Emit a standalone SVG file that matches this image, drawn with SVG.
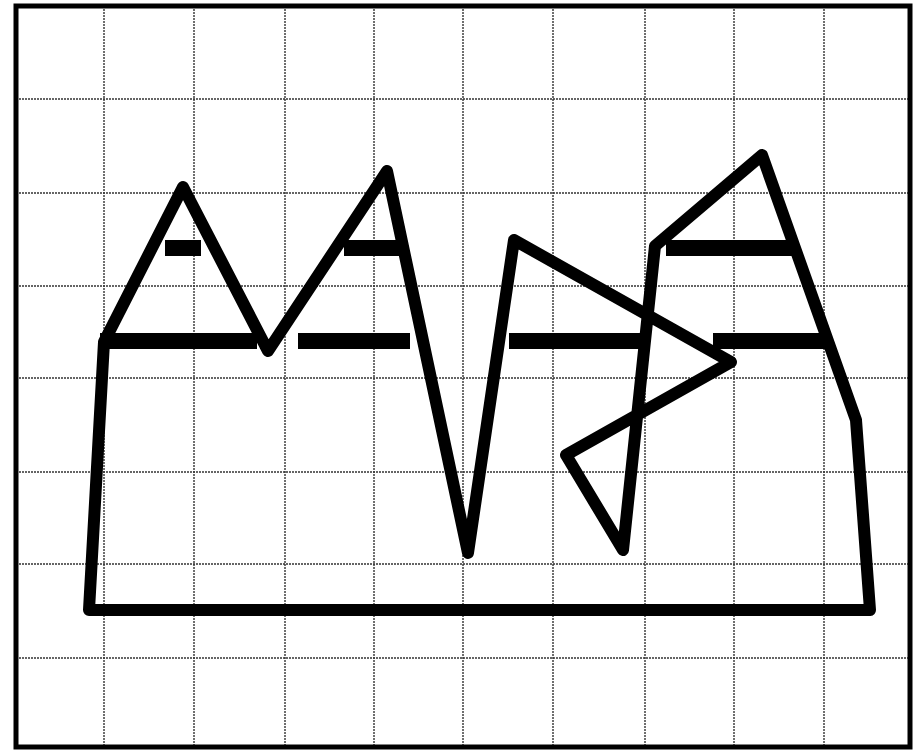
<svg xmlns="http://www.w3.org/2000/svg" width="915" height="750" viewBox="0 0 915 750">
  <style>
    .grid line { stroke: #333; stroke-width: 1.4; stroke-dasharray: 2 1; }
    .shape { fill: none; stroke: #000; stroke-width: 12; stroke-linejoin: round; stroke-linecap: round; }
    .bar { fill: #000; }
  </style>
  <rect x="0" y="0" width="915" height="750" fill="#fff"/>
  <g id="grid" class="grid">
    <line x1="104" y1="6" x2="104" y2="748"/>
    <line x1="194" y1="6" x2="194" y2="748"/>
    <line x1="285" y1="6" x2="285" y2="748"/>
    <line x1="374" y1="6" x2="374" y2="748"/>
    <line x1="463" y1="6" x2="463" y2="748"/>
    <line x1="553" y1="6" x2="553" y2="748"/>
    <line x1="645" y1="6" x2="645" y2="748"/>
    <line x1="734" y1="6" x2="734" y2="748"/>
    <line x1="824" y1="6" x2="824" y2="748"/>
    <line x1="16" y1="99" x2="910" y2="99"/>
    <line x1="16" y1="193" x2="910" y2="193"/>
    <line x1="16" y1="286" x2="910" y2="286"/>
    <line x1="16" y1="378" x2="910" y2="378"/>
    <line x1="16" y1="472" x2="910" y2="472"/>
    <line x1="16" y1="564" x2="910" y2="564"/>
    <line x1="16" y1="658" x2="910" y2="658"/>
  </g>
  <rect id="frame" x="16" y="6" width="894" height="741" fill="none" stroke="#000" stroke-width="5"/>
  <g id="bars">
    <rect class="bar" x="165" y="240" width="36" height="16"/>
    <rect class="bar" x="344" y="240" width="56" height="16"/>
    <rect class="bar" x="666" y="240" width="126" height="16"/>
    <rect class="bar" x="100" y="333" width="157" height="16"/>
    <rect class="bar" x="298" y="333" width="112" height="16"/>
    <rect class="bar" x="509" y="333" width="133" height="16"/>
    <rect class="bar" x="713" y="333" width="112" height="16"/>
  </g>
  <g id="outline">
    <polygon class="shape" points="89,610 104,342 183,187 268,351 387,171 468,553 514,240 731,362 566,455 623,550 655,246 762,155 856,420 870,610"/>
  </g>
</svg>
